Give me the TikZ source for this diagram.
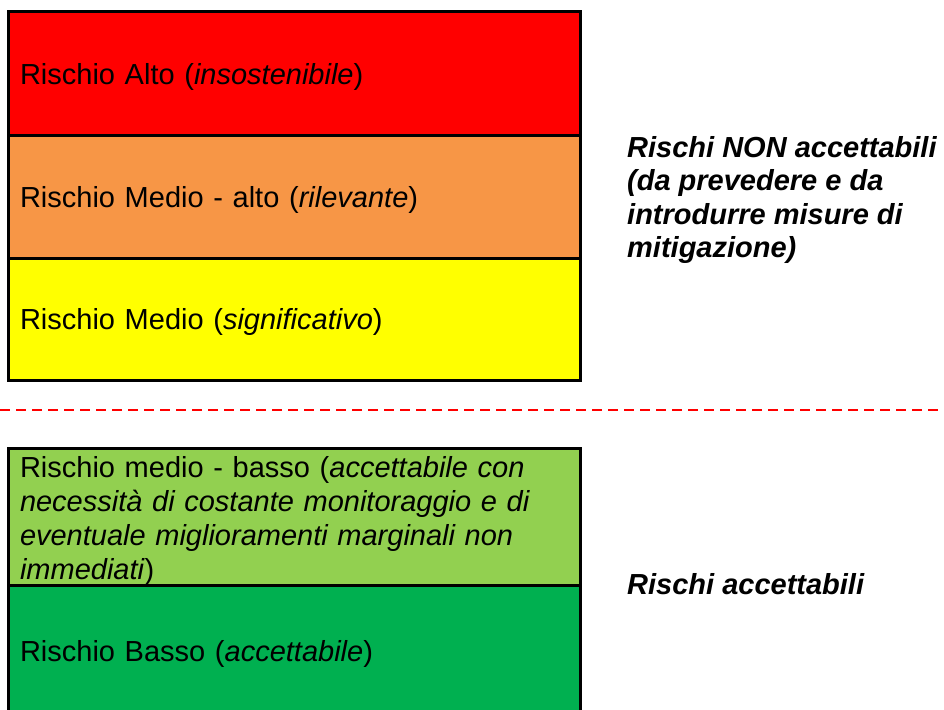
\documentclass[tikz,border=0pt]{standalone}
\usepackage{fontspec}
\setmainfont{Liberation Sans}
\usetikzlibrary{positioning}

\definecolor{riskred}{HTML}{FF0000}
\definecolor{riskorange}{HTML}{F79646}
\definecolor{riskyellow}{HTML}{FFFF00}
\definecolor{risklime}{HTML}{92D050}
\definecolor{riskgreen}{HTML}{00B050}

\begin{document}
\begin{tikzpicture}[x=1pt, y=-1pt,
    band/.style={draw=black, line width=3pt, rectangle, outer sep=0pt,
        inner xsep=12pt, inner ysep=0pt, text width=548pt, align=left,
        text depth=0pt, minimum height=123pt, font=\fontsize{29}{34}\selectfont},
    verdict/.style={anchor=west, align=left, inner sep=0pt,
        font=\fontsize{29}{33.5}\selectfont\bfseries\itshape}]
    \clip (0,0) rectangle (944,709);
    \begin{scope}
        \node[band, fill=riskred, anchor=north west] (alto) at (8,12)
            {Rischio Alto (\textit{insostenibile})};
        \node[band, fill=riskorange, below=0pt of alto] (medioalto)
            {Rischio Medio - alto (\textit{rilevante})};
        \node[band, fill=riskyellow, minimum height=122pt, below=0pt of medioalto] (medio)
            {Rischio Medio (\textit{significativo})};
    \end{scope}
    \coordinate (sepL) at (0,410);
    \coordinate (sepR) at (944,410);
    \draw[riskred, line width=2.5pt, dash pattern=on 10pt off 6pt] (sepL) -- (sepR);
    \begin{scope}
        \node[band, fill=risklime, text depth=100pt, minimum height=137pt, anchor=north west] (mediobasso) at (8,448)
            {Rischio medio - basso (\textit{accettabile con}\\
             \textit{necessità di costante monitoraggio e di}\\
             \textit{eventuale miglioramenti marginali non}\\
             \textit{immediati})};
        \node[band, fill=riskgreen, minimum height=132pt, below=0pt of mediobasso] (basso)
            {Rischio Basso (\textit{accettabile})};
    \end{scope}
    \node[verdict] (nonacc) at (627,200)
        {Rischi NON accettabili\\(da prevedere e da\\introdurre misure di\\mitigazione)};
    \node[verdict] (acc) at (627,584) {Rischi accettabili};
\end{tikzpicture}
\end{document}
